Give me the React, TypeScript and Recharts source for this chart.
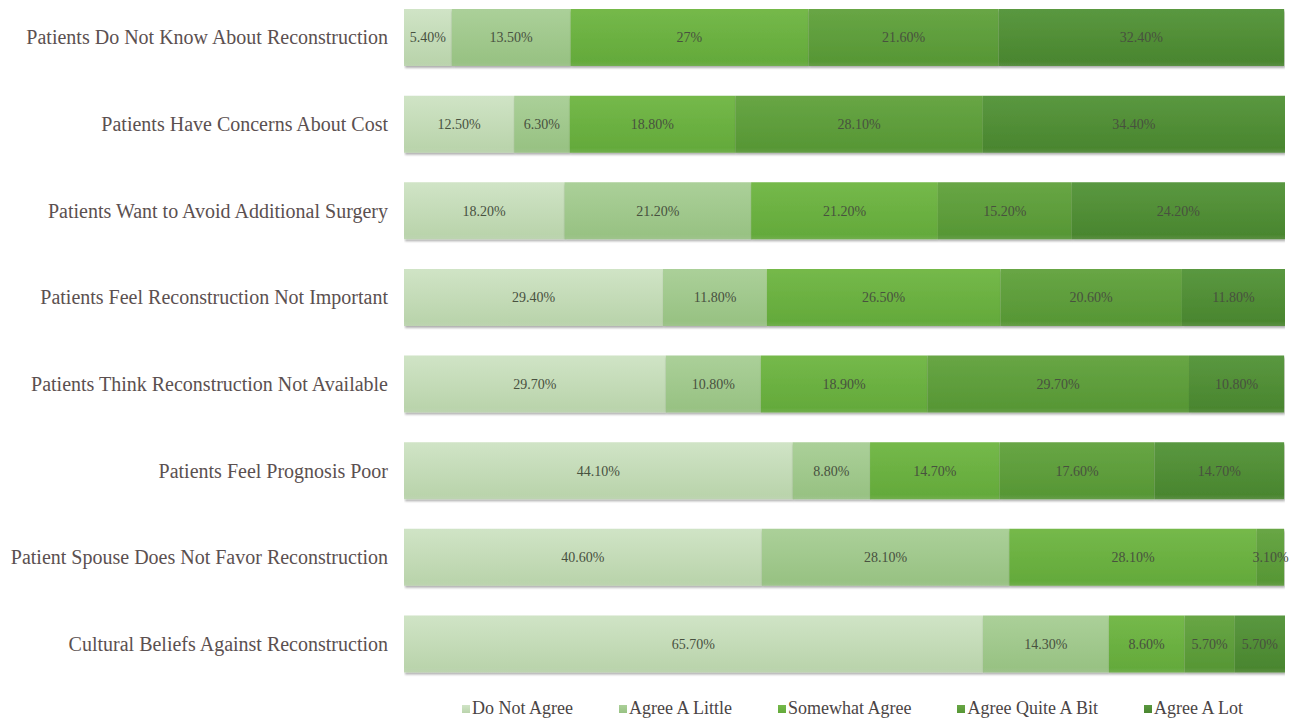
import React from "react";
import {
  BarChart,
  Bar,
  XAxis,
  YAxis,
  LabelList,
  Legend,
} from "recharts";

// ============================================
// Data
// ============================================

const categories = [
  "Patients Do Not Know About Reconstruction",
  "Patients Have Concerns About Cost",
  "Patients Want to Avoid Additional Surgery",
  "Patients Feel Reconstruction Not Important",
  "Patients Think Reconstruction Not Available",
  "Patients Feel Prognosis Poor",
  "Patient Spouse Does Not Favor Reconstruction",
  "Cultural Beliefs Against Reconstruction",
];

const seriesNames = [
  "Do Not Agree",
  "Agree A Little",
  "Somewhat Agree",
  "Agree Quite A Bit",
  "Agree A Lot",
];

const doNotAgree = [5.4, 12.5, 18.2, 29.4, 29.7, 44.1, 40.6, 65.7];
const agreeLittle = [13.5, 6.3, 21.2, 11.8, 10.8, 8.8, 28.1, 14.3];
const somewhatAgree = [27, 18.8, 21.2, 26.5, 18.9, 14.7, 28.1, 8.6];
const agreeQuiteABit = [21.6, 28.1, 15.2, 20.6, 29.7, 17.6, 3.1, 5.7];
const agreeALot = [32.4, 34.4, 24.2, 11.8, 10.8, 14.7, 0, 5.7];

const seriesValues = [doNotAgree, agreeLittle, somewhatAgree, agreeQuiteABit, agreeALot];

// ============================================
// Colors
// ============================================

const colors = {
  // [top, bottom] of each bar gradient
  bars: [
    ["#d0e4c6", "#bad4ac"],
    ["#abd099", "#98c283"],
    ["#75b94a", "#64aa3b"],
    ["#68a645", "#579735"],
    ["#5a9840", "#4a862f"],
  ],
  category: "#5b5050",
  label: "#48513f",
  legend: "#4a4444",
};

const serif = '"Liberation Serif", "DejaVu Serif", serif';

const chartData = categories.map((name, i) => {
  const row: Record<string, any> = { name };
  seriesNames.forEach((s, k) => {
    row[s] = seriesValues[k][i];
  });
  return row;
});

const formatPct = (v: any) => {
  const n = Number(v);
  if (!n) return "";
  return Number.isInteger(n) ? `${n}%` : `${n.toFixed(2)}%`;
};

// 凡例（カスタム）
const LegendContent = () => (
  <div
    style={{
      height: 34,
      display: "flex",
      justifyContent: "center",
      alignItems: "flex-start",
      paddingLeft: 420,
      paddingRight: 12,
      boxSizing: "border-box",
      gap: 46,
      fontFamily: serif,
      fontSize: 18,
      color: colors.legend,
    }}
  >
    {seriesNames.map((s, k) => (
      <div key={s} style={{ display: "flex", alignItems: "center" }}>
        <span
          style={{
            display: "inline-block",
            width: 8,
            height: 8,
            marginRight: 2,
            background: `linear-gradient(${colors.bars[k][0]}, ${colors.bars[k][1]})`,
          }}
        />
        <span>{s}</span>
      </div>
    ))}
  </div>
);

export default function App() {
  return (
    <div style={{ position: "absolute", left: 0, top: -6, background: "#fff" }}>
      <BarChart
        width={1297}
        height={727}
        data={chartData}
        layout="vertical"
        margin={{ top: 0, right: 12, bottom: 0, left: 0 }}
      >
        <defs>
          {colors.bars.map((c, k) => (
            <linearGradient key={k} id={`grad${k}`} x1="0" y1="0" x2="0" y2="1">
              <stop offset="0%" stopColor={c[0]} />
              <stop offset="92%" stopColor={c[1]} />
              <stop offset="100%" stopColor={c[1]} stopOpacity={0.85} />
            </linearGradient>
          ))}
          <filter id="barShadow" x="-5%" y="-10%" width="110%" height="130%">
            <feDropShadow dx="1" dy="2" stdDeviation="1.2" floodColor="#000" floodOpacity="0.35" />
          </filter>
        </defs>
        <XAxis type="number" domain={[0, 100]} allowDataOverflow hide />
        <YAxis
          type="category"
          dataKey="name"
          width={404}
          axisLine={false}
          tickLine={false}
          tickSize={0}
          tickMargin={16}
          tick={{ fill: colors.category, fontSize: 20, fontFamily: serif }}
          interval={0}
        />
        {seriesNames.map((s, k) => (
          <Bar
            key={s}
            dataKey={s}
            stackId="a"
            barSize={57}
            fill={`url(#grad${k})`}
            filter="url(#barShadow)"
            isAnimationActive={false}
          >
            <LabelList
              dataKey={s}
              position="center"
              formatter={formatPct}
              style={{ fill: colors.label, fontSize: 14, fontFamily: serif }}
            />
          </Bar>
        ))}
        <Legend
          verticalAlign="bottom"
          content={<LegendContent />}
          wrapperStyle={{ top: 704, bottom: "auto", left: 0, width: 1297 }}
        />
      </BarChart>
    </div>
  );
}
